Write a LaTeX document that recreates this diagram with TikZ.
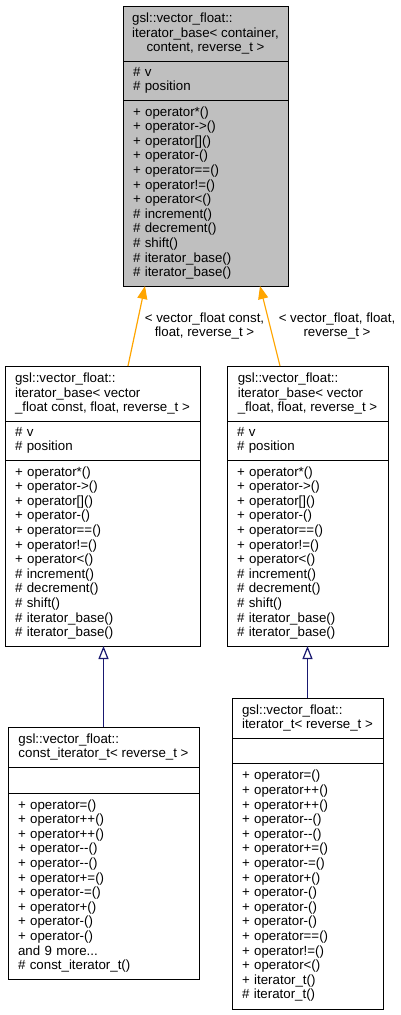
\documentclass[tikz,border=0pt]{standalone}
\usepackage{fontspec}
\newfontfamily\doxfont{Liberation Sans}
\usetikzlibrary{arrows.meta}
\definecolor{grey75}{HTML}{BFBFBF}
\definecolor{dxorange}{HTML}{FFA500}
\definecolor{midnight}{HTML}{191970}
\newcommand{\baseops}{+ operator*()\\ + operator->()\\ + operator[]()\\
  + operator-()\\ + operator==()\\ + operator!=()\\ + operator<()\\
  \# increment()\\ \# decrement()\\ \# shift()\\ \# iterator\_base()\\
  \# iterator\_base()}
\begin{document}
\begin{tikzpicture}[x=1pt, y=-1pt,
    box/.style={draw, line width=1pt, outer sep=0pt, inner ysep=3pt,
      font=\doxfont\fontsize{13.3}{14.6}\selectfont},
    ttl/.style={box, align=left, anchor=north west},
    sec/.style={box, align=left, anchor=north, inner xsep=10pt},
    lbl/.style={font=\doxfont\fontsize{13.3}{14.6}\selectfont, align=center,
      text=black},
    tmpl/.style={-{Triangle[length=13pt,width=10pt]}, dxorange, line width=1.2pt},
    inh/.style={-{Triangle[open,length=13pt,width=10pt,fill=white]}, midnight,
      line width=1.2pt}]
  \useasboundingbox (0,0) rectangle (401,1015);
  \begin{scope}[every node/.append style={fill=grey75}]
    \node[ttl, align=center, minimum width=165pt, minimum height=55pt] (tmpl)
    at (123,6) {\rlap{gsl::vector\_float::}\phantom{iterator\_base< container,}\\
      iterator\_base< container,\\ content, reverse\_t >};
    \node[sec, text width=145pt, minimum height=39pt] (tmplA) at (tmpl.south)
    {\# v\\ \# position};
    \node[sec, text width=145pt, minimum height=186pt] (tmplM) at (tmplA.south)
    {\baseops};
  \end{scope}
  \node[ttl, minimum width=195pt, minimum height=55pt] (cbase) at (5,366)
  {gsl::vector\_float::\\ iterator\_base< vector\\ \_float const, float, reverse\_t >};
  \node[sec, text width=175pt, minimum height=39pt] (cbaseA) at (cbase.south)
  {\# v\\ \# position};
  \node[sec, text width=175pt, minimum height=186pt] (cbaseM) at (cbaseA.south)
  {\baseops};
  \node[ttl, minimum width=161pt, minimum height=55pt] (mbase) at (227,366)
  {gsl::vector\_float::\\ iterator\_base< vector\\ \_float, float, reverse\_t >};
  \node[sec, text width=141pt, minimum height=39pt] (mbaseA) at (mbase.south)
  {\# v\\ \# position};
  \node[sec, text width=141pt, minimum height=186pt] (mbaseM) at (mbaseA.south)
  {\baseops};
  \node[ttl, minimum width=191pt, minimum height=40pt] (cit) at (8,727)
  {gsl::vector\_float::\\ const\_iterator\_t< reverse\_t >};
  \node[sec, text width=171pt, minimum height=26pt] (citA) at (cit.south) {};
  \node[sec, text width=171pt, minimum height=186pt] (citM) at (citA.south)
  {+ operator=()\\ + operator++()\\ + operator++()\\ + operator--()\\
    + operator--()\\ + operator+=()\\ + operator-=()\\ + operator+()\\
    + operator-()\\ + operator-()\\ and 9 more...\\ \# const\_iterator\_t()};
  \node[ttl, minimum width=151pt, minimum height=40pt] (mit) at (232,698)
  {gsl::vector\_float::\\ iterator\_t< reverse\_t >};
  \node[sec, text width=131pt, minimum height=25pt] (mitA) at (mit.south) {};
  \node[sec, text width=131pt, minimum height=246pt] (mitM) at (mitA.south)
  {+ operator=()\\ + operator++()\\ + operator++()\\ + operator--()\\
    + operator--()\\ + operator+=()\\ + operator-=()\\ + operator+()\\
    + operator-()\\ + operator-()\\ + operator-()\\ + operator==()\\
    + operator!=()\\ + operator<()\\ + iterator\_t()\\ \# iterator\_t()};
  \draw[tmpl] ([xshift=25.5pt]cbase.north) -- node[lbl, midway, xshift=68pt]
  {< vector\_float const,\\ float, reverse\_t >} ([xshift=-60.5pt]tmplM.south);
  \draw[tmpl] ([xshift=-27.5pt]mbase.north) -- node[lbl, midway, xshift=67pt]
  {< vector\_float, float,\\ reverse\_t >} ([xshift=54.5pt]tmplM.south);
  \draw[inh] (cit.north) -- (cit.north |- cbaseM.south);
  \draw[inh] (mit.north) -- (mit.north |- mbaseM.south);
\end{tikzpicture}
\end{document}
